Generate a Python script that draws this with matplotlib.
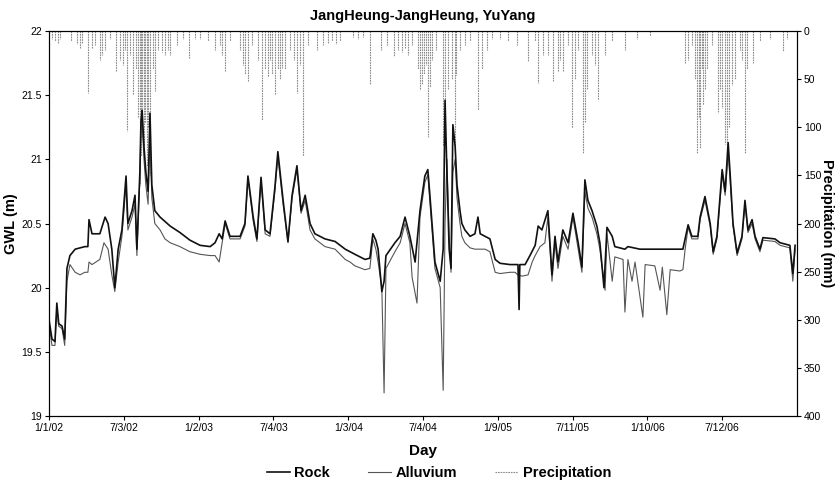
import matplotlib
matplotlib.use("Agg")
import matplotlib.pyplot as plt
from matplotlib.lines import Line2D

plt.rcParams['font.family'] = ['Liberation Sans', 'DejaVu Sans']

title = "JangHeung-JangHeung, YuYang"
tick_days = [0, 200, 400, 600, 800, 1000, 1200, 1400, 1600, 1800]
tick_labels = ["1/1/02", "7/3/02", "1/2/03", "7/4/03", "1/3/04",
               "7/4/04", "1/9/05", "7/11/05", "1/10/06", "7/12/06"]

rock_day = [0, 8, 16, 21, 26, 35, 42, 48, 56, 70, 96, 104, 107, 115, 136, 150, 158, 168, 176, 185,
            195, 206, 211, 222, 230, 235, 243, 246, 249, 254, 259, 265, 270, 275, 283, 297, 324, 350,
            377, 404, 431, 444, 455, 463, 471, 484, 511, 524, 532, 546, 556, 567, 578, 591, 604, 612,
            626, 639, 650, 663, 674, 685, 698, 711, 738, 765, 792, 818, 845, 858, 866, 874, 880, 890,
            896, 901, 925, 939, 952, 965, 979, 992, 1005, 1013, 1019, 1032, 1046, 1054, 1059, 1064,
            1070, 1075, 1080, 1086, 1091, 1099, 1104, 1112, 1126, 1139, 1147, 1153, 1166, 1179, 1193,
            1206, 1233, 1246, 1254, 1257, 1259, 1273, 1286, 1300, 1308, 1318, 1334, 1345, 1353, 1361,
            1374, 1388, 1401, 1415, 1425, 1433, 1441, 1452, 1465, 1473, 1484, 1492, 1506, 1513, 1540,
            1548, 1580, 1607, 1634, 1661, 1687, 1695, 1709, 1719, 1735, 1741, 1754, 1768, 1776, 1786,
            1800, 1808, 1816, 1821, 1829, 1840, 1853, 1861, 1869, 1880, 1888, 1901, 1909, 1941, 1955,
            1981, 1989, 1995]
rock_gwl = [19.75, 19.6, 19.58, 19.88, 19.72, 19.7, 19.6, 20.15, 20.25, 20.3, 20.32, 20.32, 20.53, 20.42,
            20.42, 20.55, 20.5, 20.3, 20.0, 20.3, 20.45, 20.87, 20.5, 20.6, 20.72, 20.3, 20.9, 21.3,
            21.38, 21.1, 20.9, 20.75, 21.36, 20.8, 20.6, 20.55, 20.48, 20.43, 20.37, 20.33, 20.32,
            20.35, 20.42, 20.38, 20.52, 20.4, 20.4, 20.5, 20.87, 20.55, 20.38, 20.86, 20.45, 20.42,
            20.78, 21.06, 20.68, 20.36, 20.72, 20.95, 20.6, 20.72, 20.5, 20.42, 20.38, 20.36, 20.3,
            20.26, 20.22, 20.23, 20.42, 20.37, 20.3, 19.97, 20.05, 20.25, 20.35, 20.4, 20.55, 20.4,
            20.2, 20.6, 20.87, 20.92, 20.7, 20.2, 20.05, 20.3, 21.46, 20.9, 20.3, 20.15, 21.27, 21.1,
            20.8, 20.6, 20.5, 20.45, 20.4, 20.42, 20.55, 20.42, 20.4, 20.38, 20.22, 20.19, 20.18,
            20.18, 20.18, 19.83, 20.18, 20.18, 20.25, 20.33, 20.48, 20.45, 20.6, 20.1, 20.4, 20.2,
            20.45, 20.35, 20.58, 20.35, 20.16, 20.84, 20.68, 20.6, 20.48, 20.35, 20.0, 20.47, 20.4,
            20.32, 20.3, 20.32, 20.3, 20.3, 20.3, 20.3, 20.3, 20.3, 20.49, 20.4, 20.4, 20.55, 20.71,
            20.5, 20.28, 20.4, 20.92, 20.75, 21.13, 20.9, 20.5, 20.27, 20.4, 20.68, 20.45, 20.53,
            20.4, 20.3, 20.39, 20.38, 20.35, 20.33, 20.11, 20.33]

alluv_day = [0, 8, 16, 21, 26, 35, 42, 48, 56, 70, 83, 96, 104, 107, 115, 136, 147, 158, 168, 176,
             185, 195, 206, 211, 222, 230, 235, 243, 246, 249, 254, 259, 265, 270, 275, 283, 297,
             310, 324, 350, 377, 404, 431, 444, 455, 463, 471, 484, 511, 524, 532, 546, 556, 567,
             578, 591, 604, 612, 626, 639, 650, 663, 674, 685, 698, 711, 738, 765, 792, 805, 818,
             845, 858, 866, 874, 880, 890, 896, 901, 925, 939, 952, 965, 971, 984, 992, 1005, 1013,
             1019, 1032, 1046, 1054, 1059, 1064, 1070, 1075, 1080, 1086, 1091, 1099, 1104, 1112,
             1126, 1139, 1153, 1166, 1179, 1193, 1206, 1233, 1246, 1254, 1265, 1281, 1292, 1300,
             1313, 1326, 1334, 1345, 1353, 1361, 1374, 1388, 1401, 1415, 1425, 1433, 1441, 1452,
             1465, 1473, 1487, 1492, 1506, 1513, 1535, 1540, 1548, 1559, 1567, 1588, 1594, 1620,
             1634, 1640, 1652, 1661, 1687, 1695, 1701, 1709, 1719, 1735, 1741, 1754, 1768, 1776,
             1786, 1800, 1808, 1816, 1821, 1829, 1840, 1853, 1861, 1869, 1880, 1888, 1901, 1909,
             1941, 1955, 1981, 1989, 1995]
alluv_gwl = [19.72, 19.55, 19.55, 19.85, 19.7, 19.68, 19.55, 20.05, 20.18, 20.12, 20.1, 20.12, 20.12,
             20.2, 20.18, 20.22, 20.35, 20.3, 20.1, 19.97, 20.2, 20.4, 20.8, 20.45, 20.55, 20.65,
             20.25, 20.85, 21.25, 21.3, 21.0, 20.8, 20.65, 21.2, 20.7, 20.5, 20.45, 20.38, 20.35,
             20.32, 20.28, 20.26, 20.25, 20.25, 20.2, 20.35, 20.5, 20.38, 20.38, 20.48, 20.85, 20.52,
             20.36, 20.84, 20.42, 20.4, 20.75, 21.02, 20.65, 20.35, 20.7, 20.92, 20.58, 20.68, 20.45,
             20.38, 20.32, 20.3, 20.22, 20.2, 20.17, 20.14, 20.15, 20.38, 20.3, 20.2, 20.0, 19.18,
             20.15, 20.28, 20.35, 20.5, 20.35, 20.08, 19.88, 20.55, 20.82, 20.88, 20.65, 20.15, 20.0,
             19.2, 20.5, 21.0, 20.4, 20.12, 20.9, 21.0, 20.7, 20.5, 20.4, 20.35, 20.31, 20.3, 20.3,
             20.3, 20.28, 20.12, 20.11, 20.12, 20.12, 20.1, 20.09, 20.1, 20.2, 20.25, 20.32, 20.35,
             20.55, 20.05, 20.35, 20.15, 20.4, 20.3, 20.55, 20.3, 20.12, 20.75, 20.62, 20.55, 20.42,
             20.3, 19.98, 20.42, 20.05, 20.24, 20.22, 19.81, 20.22, 20.05, 20.2, 19.77, 20.18, 20.17,
             19.98, 20.16, 19.79, 20.14, 20.13, 20.14, 20.3, 20.47, 20.38, 20.38, 20.53, 20.68, 20.48,
             20.26, 20.38, 20.88, 20.72, 21.05, 20.85, 20.48, 20.25, 20.38, 20.65, 20.43, 20.5, 20.38,
             20.28, 20.37, 20.36, 20.33, 20.31, 20.05, 20.3]

precip_day = [8, 16, 24, 29, 59, 75, 83, 88, 104, 115, 123, 136, 142, 150, 163, 179, 190, 198, 203,
              209, 217, 225, 233, 238, 243, 246, 249, 254, 257, 262, 265, 270, 278, 283, 291, 302,
              310, 318, 324, 342, 358, 374, 390, 404, 425, 444, 457, 463, 471, 484, 511, 519, 524,
              532, 543, 559, 570, 578, 586, 591, 596, 604, 612, 618, 623, 631, 644, 655, 663, 671,
              679, 693, 717, 733, 746, 757, 767, 778, 813, 826, 840, 858, 888, 904, 923, 933, 944,
              952, 960, 971, 987, 992, 997, 1003, 1008, 1013, 1019, 1024, 1035, 1054, 1059, 1067,
              1078, 1086, 1088, 1099, 1112, 1126, 1147, 1158, 1171, 1185, 1206, 1227, 1251, 1281,
              1300, 1308, 1321, 1334, 1348, 1361, 1366, 1374, 1388, 1399, 1407, 1415, 1428, 1433,
              1439, 1452, 1460, 1468, 1487, 1506, 1540, 1572, 1607, 1701, 1709, 1719, 1727, 1733,
              1738, 1741, 1746, 1749, 1754, 1760, 1773, 1789, 1794, 1800, 1808, 1813, 1818, 1826,
              1834, 1848, 1853, 1861, 1866, 1883, 1901, 1928, 1963, 1973]
precip_mm = [8, 10, 12, 8, 10, 14, 18, 12, 64, 18, 15, 30, 25, 20, 8, 42, 30, 35, 20, 104, 25, 67,
             40, 90, 160, 130, 110, 120, 95, 140, 100, 150, 40, 62, 20, 22, 25, 20, 25, 15, 8, 28, 8,
             8, 10, 20, 15, 25, 42, 10, 20, 35, 45, 52, 15, 30, 92, 40, 48, 30, 45, 66, 40, 50, 38,
             40, 20, 30, 64, 35, 130, 15, 20, 15, 12, 10, 14, 10, 6, 8, 6, 55, 20, 15, 26, 20, 22, 18,
             25, 15, 40, 61, 55, 45, 35, 110, 58, 30, 20, 120, 90, 60, 50, 130, 46, 20, 15, 10, 82,
             40, 20, 8, 8, 10, 15, 31, 10, 54, 25, 25, 52, 42, 30, 42, 15, 101, 50, 20, 127, 95, 60,
             25, 35, 72, 25, 10, 20, 8, 5, 33, 30, 15, 50, 127, 90, 122, 40, 77, 60, 40, 15, 85, 60,
             80, 117, 140, 100, 56, 50, 20, 30, 127, 40, 33, 10, 8, 21, 8]

fig = plt.figure(figsize=(8.36, 4.88), dpi=100)
ax = fig.add_axes([0.0586, 0.1475, 0.8947, 0.789])
ax2 = ax.twinx()

ax2.vlines(precip_day, 0, precip_mm, colors='#8a8a8a', linewidth=0.8, linestyles=(0, (1.5, 0.8)))
ax2.set_ylim(400, 0)
ax2.set_yticks(range(0, 401, 50))
ax2.set_ylabel("Precipitation (mm)", fontsize=10.5, fontweight='bold', rotation=270, labelpad=9)

ax.plot(alluv_day, alluv_gwl, color='#555555', linewidth=0.8)
ax.plot(rock_day, rock_gwl, color='#111111', linewidth=1.2)
ax.set_zorder(ax2.get_zorder() + 1)
ax.patch.set_visible(False)

ax.set_xlim(0, 2000)
ax.set_ylim(19, 22)
ax.set_yticks([19, 19.5, 20, 20.5, 21, 21.5, 22])
ax.set_yticklabels(["19", "19.5", "20", "20.5", "21", "21.5", "22"])
ax.set_xticks(tick_days)
ax.set_xticklabels(tick_labels)
ax.set_ylabel("GWL (m)", fontsize=10.5, fontweight='bold', labelpad=3)
ax.set_xlabel("Day", fontsize=11, fontweight='bold', labelpad=8)
ax.set_title(title, fontsize=10.5, fontweight='bold', pad=8)

for a in (ax, ax2):
    a.tick_params(labelsize=7.5, length=3, width=0.8, direction='out', pad=2)
    for s in a.spines.values():
        s.set_linewidth(0.8)

handles = [Line2D([], [], color='#111111', lw=1.2),
           Line2D([], [], color='#555555', lw=0.8),
           Line2D([], [], color='#8a8a8a', lw=0.8, ls=(0, (1.5, 0.8)))]
fig.legend(handles, ["Rock", "Alluvium", "Precipitation"], loc='lower center',
           bbox_to_anchor=(0.525, -0.01), ncol=3, frameon=False, columnspacing=2.6,
           handlelength=1.6, handletextpad=0.3, prop={'weight': 'bold', 'size': 10.5})

fig.savefig("out.png", dpi=100)
